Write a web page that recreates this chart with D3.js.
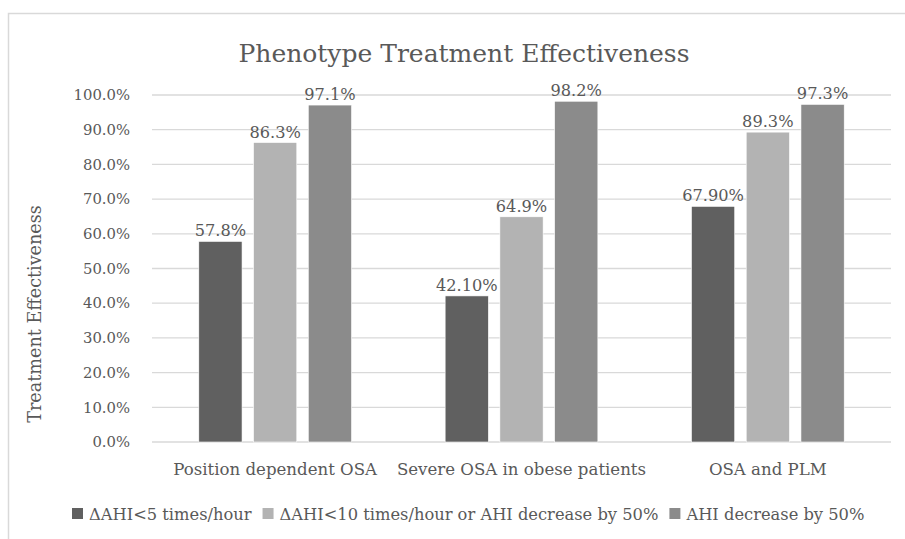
<!DOCTYPE html>
<html>
<head>
<meta charset="utf-8">
<script src="https://cdn.jsdelivr.net/npm/d3@7"></script>
<style>
  body { margin: 0; background: #fff; }
  svg text { font-family: "DejaVu Serif", serif; fill: #595959; }
</style>
</head>
<body>
<svg id="chart"></svg>
<script>
const categories = ['Position dependent OSA', 'Severe OSA in obese patients', 'OSA and PLM'];
const seriesNames = ['ΔAHI<5 times/hour', 'ΔAHI<10 times/hour or AHI decrease by 50%', 'AHI decrease by 50%'];
const seriesColors = ['#606060', '#b3b3b3', '#8b8b8b'];
// values per series, in category order
const ahiUnder5 = [0.578, 0.421, 0.679];
const ahiUnder10 = [0.863, 0.649, 0.893];
const ahiHalved = [0.971, 0.982, 0.973];
const labelsUnder5 = ['57.8%', '42.10%', '67.90%'];
const labelsUnder10 = ['86.3%', '64.9%', '89.3%'];
const labelsHalved = ['97.1%', '98.2%', '97.3%'];
const yTicks = [0, 0.1, 0.2, 0.3, 0.4, 0.5, 0.6, 0.7, 0.8, 0.9, 1.0];

const width = 905, height = 539;
const margin = { top: 95, right: 14, bottom: 97, left: 152 };

const svg = d3.select('#chart').attr('width', width).attr('height', height);

// outer chart border (cropped at right and bottom)
svg.append('rect')
  .attr('x', 8.5).attr('y', 13.5)
  .attr('width', 920).attr('height', 560)
  .attr('fill', 'none').attr('stroke', '#d9d9d9').attr('stroke-width', 1.5);

const innerW = width - margin.left - margin.right;
const innerH = height - margin.top - margin.bottom;
const g = svg.append('g').attr('transform', `translate(${margin.left},${margin.top})`);

const x0 = d3.scaleBand().domain(categories).range([0, innerW]);
const x1 = d3.scaleBand().domain(seriesNames)
  .range([x0.bandwidth() * 0.19, x0.bandwidth() * 0.81])
  .paddingInner(0.21);
const y = d3.scaleLinear().domain([0, 1]).range([innerH, 0]);

// gridlines
g.append('g').selectAll('line')
  .data(yTicks)
  .enter().append('line')
  .attr('x1', 0).attr('x2', innerW)
  .attr('y1', d => y(d)).attr('y2', d => y(d))
  .attr('stroke', '#d9d9d9').attr('stroke-width', 1.3);

// y axis labels
const yAxis = g.append('g')
  .call(d3.axisLeft(y).tickValues(yTicks).tickFormat(d3.format('.1%')).tickSize(0).tickPadding(22));
yAxis.select('.domain').remove();
yAxis.selectAll('text').style('font-size', '14.8px').attr('fill', '#595959');

const series = [
  { name: seriesNames[0], values: ahiUnder5, labels: labelsUnder5, color: seriesColors[0] },
  { name: seriesNames[1], values: ahiUnder10, labels: labelsUnder10, color: seriesColors[1] },
  { name: seriesNames[2], values: ahiHalved, labels: labelsHalved, color: seriesColors[2] }
];

const bars = [];
series.forEach(s => {
  categories.forEach((c, i) => {
    bars.push({ cat: c, series: s.name, value: s.values[i], label: s.labels[i], color: s.color });
  });
});

g.append('g').selectAll('rect')
  .data(bars)
  .enter().append('rect')
  .attr('x', d => x0(d.cat) + x1(d.series))
  .attr('y', d => y(d.value))
  .attr('width', x1.bandwidth())
  .attr('height', d => y(0) - y(d.value))
  .attr('fill', d => d.color)
  .attr('stroke', '#ffffff').attr('stroke-width', 0.6);

g.append('g').selectAll('text')
  .data(bars)
  .enter().append('text')
  .attr('x', d => x0(d.cat) + x1(d.series) + x1.bandwidth() / 2)
  .attr('y', d => y(d.value) - 5)
  .attr('text-anchor', 'middle')
  .style('font-size', '16.2px')
  .text(d => d.label);

// category labels
g.append('g').selectAll('text')
  .data(categories)
  .enter().append('text')
  .attr('x', d => x0(d) + x0.bandwidth() / 2)
  .attr('y', innerH + 33)
  .attr('text-anchor', 'middle')
  .style('font-size', '16.6px')
  .text(d => d);

// title
svg.append('text')
  .attr('x', 464).attr('y', 62)
  .attr('text-anchor', 'middle')
  .style('font-size', '25px')
  .text('Phenotype Treatment Effectiveness');

// y axis title
svg.append('text')
  .attr('transform', 'translate(41,314) rotate(-90)')
  .attr('text-anchor', 'middle')
  .style('font-size', '17.6px')
  .text('Treatment Effectiveness');

// legend
const legend = svg.append('g').attr('transform', 'translate(0,520)');
let lx = 72;
series.forEach(s => {
  const item = legend.append('g').attr('transform', `translate(${lx},0)`);
  item.append('rect').attr('x', 0).attr('y', -12).attr('width', 11).attr('height', 11).attr('fill', s.color);
  const t = item.append('text').attr('x', 17).attr('y', 0).style('font-size', '16.3px').text(s.name);
  lx += 17 + t.node().getComputedTextLength() + 11;
});
</script>
</body>
</html>
